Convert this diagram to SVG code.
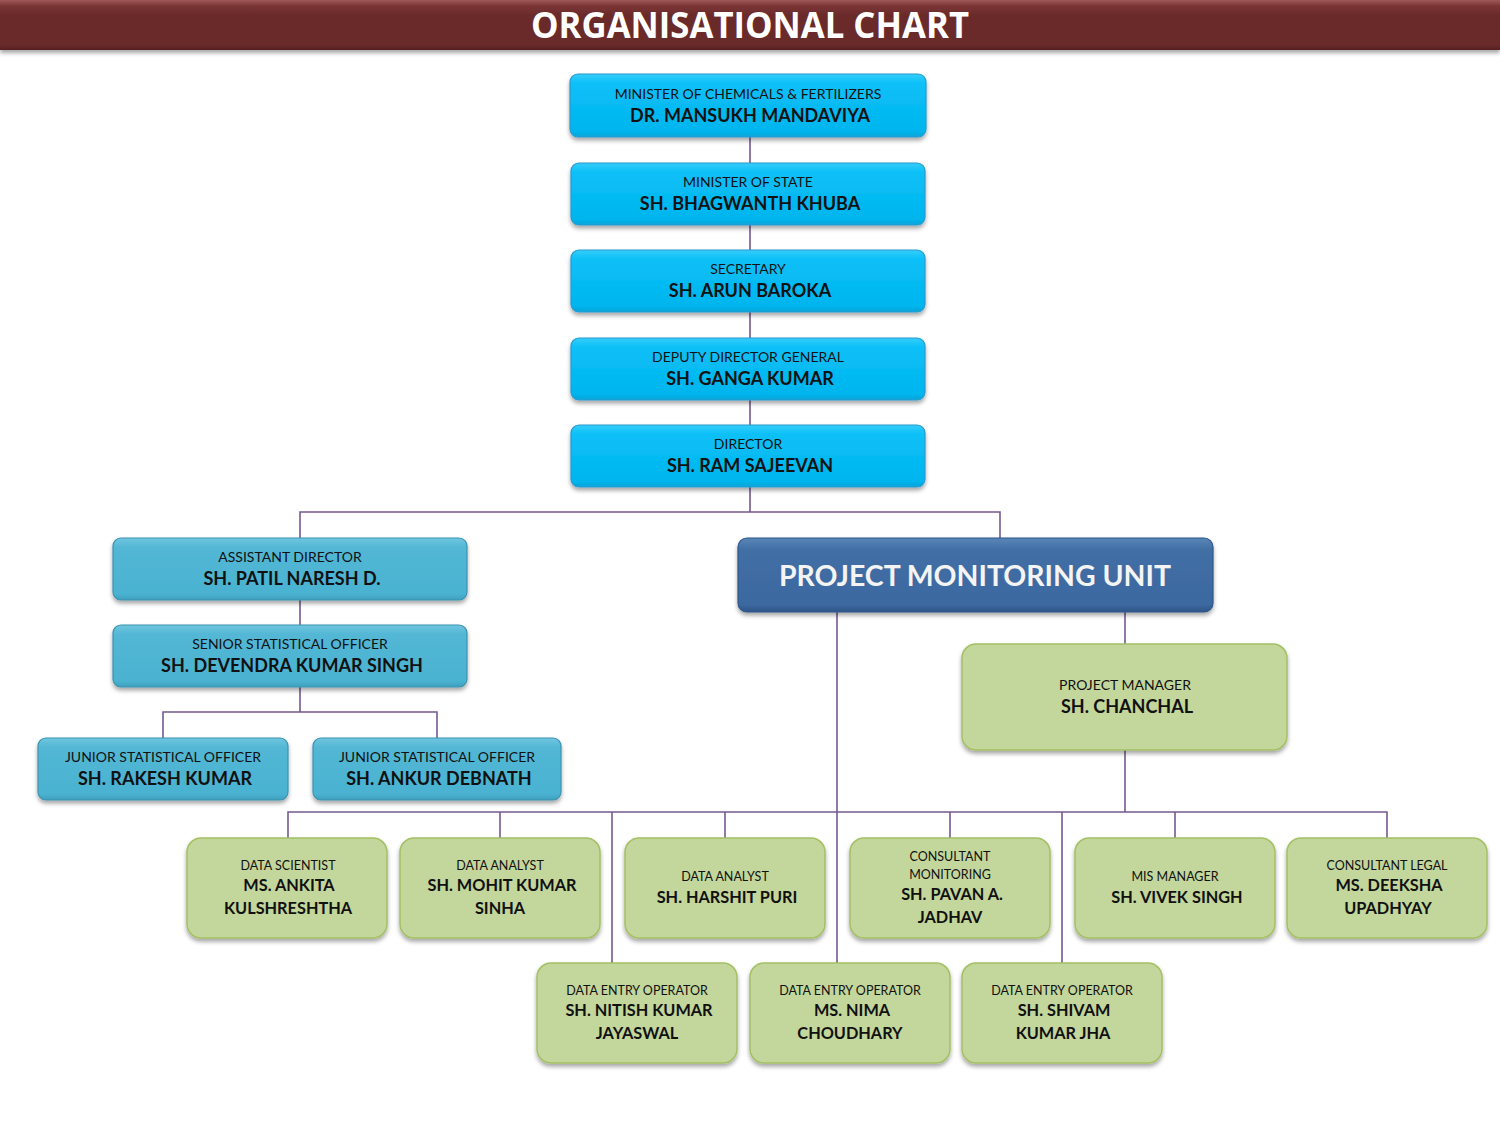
<svg xmlns="http://www.w3.org/2000/svg" width="1500" height="1125" viewBox="0 0 1500 1125">
<style>
  .t{font-family:Lato,"Open Sans","Liberation Sans",sans-serif;text-anchor:middle;fill:#111}
  .ti{font-size:14px}
  .nm{font-size:18px;font-weight:bold}
  .gti{font-size:12.5px}
  .gnm{font-size:16.3px;font-weight:bold}
  .bright{fill:url(#gBright);stroke:#2a9ad0;stroke-width:1.2}
  .mid{fill:url(#gMid);stroke:#3b93b0;stroke-width:1.2}
  .green{fill:#c3d69b;stroke:#a4c064;stroke-width:1.5}
  .conn{stroke:#76598f;stroke-width:1.6;fill:none}
</style>
<defs>
  <filter id="sh" x="-10%" y="-20%" width="120%" height="150%">
    <feDropShadow dx="0" dy="3" stdDeviation="2.2" flood-color="#000" flood-opacity="0.35"/>
  </filter>
  <linearGradient id="gBright" x1="0" y1="0" x2="0" y2="1">
    <stop offset="0" stop-color="#35cdfb"/>
    <stop offset="0.15" stop-color="#0cc0f7"/>
    <stop offset="0.9" stop-color="#00b5ee"/>
    <stop offset="1" stop-color="#0aa5d8"/>
  </linearGradient>
  <linearGradient id="gMid" x1="0" y1="0" x2="0" y2="1">
    <stop offset="0" stop-color="#71c6df"/>
    <stop offset="0.15" stop-color="#52b7d5"/>
    <stop offset="0.9" stop-color="#4bb2d1"/>
    <stop offset="1" stop-color="#3f9fbe"/>
  </linearGradient>
  <linearGradient id="gPmu" x1="0" y1="0" x2="0" y2="1">
    <stop offset="0" stop-color="#5a86b8"/>
    <stop offset="0.15" stop-color="#426fa5"/>
    <stop offset="0.9" stop-color="#3c68a0"/>
    <stop offset="1" stop-color="#2f5687"/>
  </linearGradient>
  <linearGradient id="gHead" x1="0" y1="0" x2="0" y2="1">
    <stop offset="0" stop-color="#a05a5a"/>
    <stop offset="0.12" stop-color="#7a3434"/>
    <stop offset="0.3" stop-color="#6b2b2b"/>
    <stop offset="0.9" stop-color="#692a2a"/>
    <stop offset="1" stop-color="#552020"/>
  </linearGradient>
</defs>
<rect width="1500" height="1125" fill="#fff"/>

<g id="header">
  <rect x="0" y="0" width="1500" height="50" fill="url(#gHead)" filter="url(#sh)"/>
  <text x="750" y="38" font-family="'Open Sans',Lato,'Liberation Sans',sans-serif" font-size="36" font-weight="bold" fill="#fff" text-anchor="middle" textLength="438" lengthAdjust="spacingAndGlyphs">ORGANISATIONAL CHART</text>
</g>

<g id="connectors">
  <path class="conn" d="M750 137V163M750 225V250M750 312V338M750 400V425M750 487V512"/>
  <path class="conn" d="M300 538V512H1000V538"/>
  <path class="conn" d="M300 600V625M300 687V712M163 738V712H437V738"/>
  <path class="conn" d="M837 612V963M1125 612V644M1125 750V812"/>
  <path class="conn" d="M288 838V812H1387V838M500 812V838M725 812V838M950 812V838M1175 812V838"/>
  <path class="conn" d="M612 812V963M1062 812V963"/>
</g>

<g id="minister">
  <rect class="bright" x="570" y="74" width="356" height="63" rx="8" filter="url(#sh)" stroke="#8a78c0"/>
  <text class="t ti" x="748" y="99">MINISTER OF CHEMICALS &amp; FERTILIZERS</text>
  <text class="t nm" x="750" y="122">DR. MANSUKH MANDAVIYA</text>
</g>
<g id="mos">
  <rect class="bright" x="571" y="163" width="354" height="62" rx="8" filter="url(#sh)"/>
  <text class="t ti" x="748" y="187">MINISTER OF STATE</text>
  <text class="t nm" x="750" y="210">SH. BHAGWANTH KHUBA</text>
</g>
<g id="secretary">
  <rect class="bright" x="571" y="250" width="354" height="62" rx="8" filter="url(#sh)"/>
  <text class="t ti" x="748" y="274">SECRETARY</text>
  <text class="t nm" x="750" y="297">SH. ARUN BAROKA</text>
</g>
<g id="ddg">
  <rect class="bright" x="571" y="338" width="354" height="62" rx="8" filter="url(#sh)"/>
  <text class="t ti" x="748" y="362">DEPUTY DIRECTOR GENERAL</text>
  <text class="t nm" x="750" y="385">SH. GANGA KUMAR</text>
</g>
<g id="director">
  <rect class="bright" x="571" y="425" width="354" height="62" rx="8" filter="url(#sh)"/>
  <text class="t ti" x="748" y="449">DIRECTOR</text>
  <text class="t nm" x="750" y="472">SH. RAM SAJEEVAN</text>
</g>

<g id="ad">
  <rect class="mid" x="113" y="538" width="354" height="62" rx="8" filter="url(#sh)"/>
  <text class="t ti" x="290" y="562">ASSISTANT DIRECTOR</text>
  <text class="t nm" x="292" y="585">SH. PATIL NARESH D.</text>
</g>
<g id="sso">
  <rect class="mid" x="113" y="625" width="354" height="62" rx="8" filter="url(#sh)"/>
  <text class="t ti" x="290" y="649">SENIOR STATISTICAL OFFICER</text>
  <text class="t nm" x="292" y="672">SH. DEVENDRA KUMAR SINGH</text>
</g>
<g id="jso1">
  <rect class="mid" x="38" y="738" width="250" height="62" rx="8" filter="url(#sh)"/>
  <text class="t ti" x="163" y="762">JUNIOR STATISTICAL OFFICER</text>
  <text class="t nm" x="165" y="785">SH. RAKESH KUMAR</text>
</g>
<g id="jso2">
  <rect class="mid" x="313" y="738" width="248" height="62" rx="8" filter="url(#sh)"/>
  <text class="t ti" x="437" y="762">JUNIOR STATISTICAL OFFICER</text>
  <text class="t nm" x="439" y="785">SH. ANKUR DEBNATH</text>
</g>

<g id="pmu">
  <rect x="738" y="538" width="475" height="74" rx="9" fill="url(#gPmu)" stroke="#2f5687" stroke-width="1.2" filter="url(#sh)"/>
  <text x="975" y="586" font-family="Lato,'Open Sans','Liberation Sans',sans-serif" font-size="29" font-weight="bold" fill="#f4f4f4" text-anchor="middle" textLength="392" lengthAdjust="spacingAndGlyphs">PROJECT MONITORING UNIT</text>
</g>

<g id="pm">
  <rect class="green" x="962" y="644" width="325" height="106" rx="14" filter="url(#sh)"/>
  <text class="t ti" x="1125" y="690">PROJECT MANAGER</text>
  <text class="t nm" x="1127" y="713">SH. CHANCHAL</text>
</g>

<g id="ds">
  <rect class="green" x="187" y="838" width="200" height="100" rx="14" filter="url(#sh)"/>
  <text class="t gti" x="288" y="870">DATA SCIENTIST</text>
  <text class="t gnm" x="289" y="891">MS. ANKITA</text>
  <text class="t gnm" x="288" y="914">KULSHRESHTHA</text>
</g>
<g id="da1">
  <rect class="green" x="400" y="838" width="200" height="100" rx="14" filter="url(#sh)"/>
  <text class="t gti" x="500" y="870">DATA ANALYST</text>
  <text class="t gnm" x="502" y="891">SH. MOHIT KUMAR</text>
  <text class="t gnm" x="500" y="914">SINHA</text>
</g>
<g id="da2">
  <rect class="green" x="625" y="838" width="200" height="100" rx="14" filter="url(#sh)"/>
  <text class="t gti" x="725" y="881">DATA ANALYST</text>
  <text class="t gnm" x="727" y="903">SH. HARSHIT PURI</text>
</g>
<g id="cm">
  <rect class="green" x="850" y="838" width="200" height="100" rx="14" filter="url(#sh)"/>
  <text class="t gti" x="950" y="861">CONSULTANT</text>
  <text class="t gti" x="950" y="879">MONITORING</text>
  <text class="t gnm" x="952" y="900">SH. PAVAN A.</text>
  <text class="t gnm" x="950" y="923">JADHAV</text>
</g>
<g id="mis">
  <rect class="green" x="1075" y="838" width="200" height="100" rx="14" filter="url(#sh)"/>
  <text class="t gti" x="1175" y="881">MIS MANAGER</text>
  <text class="t gnm" x="1177" y="903">SH. VIVEK SINGH</text>
</g>
<g id="cl">
  <rect class="green" x="1287" y="838" width="200" height="100" rx="14" filter="url(#sh)"/>
  <text class="t gti" x="1387" y="870">CONSULTANT LEGAL</text>
  <text class="t gnm" x="1389" y="891">MS. DEEKSHA</text>
  <text class="t gnm" x="1388" y="914">UPADHYAY</text>
</g>

<g id="deo1">
  <rect class="green" x="537" y="963" width="200" height="100" rx="14" filter="url(#sh)"/>
  <text class="t gti" x="637" y="995">DATA ENTRY OPERATOR</text>
  <text class="t gnm" x="639" y="1016">SH. NITISH KUMAR</text>
  <text class="t gnm" x="637" y="1039">JAYASWAL</text>
</g>
<g id="deo2">
  <rect class="green" x="750" y="963" width="200" height="100" rx="14" filter="url(#sh)"/>
  <text class="t gti" x="850" y="995">DATA ENTRY OPERATOR</text>
  <text class="t gnm" x="852" y="1016">MS. NIMA</text>
  <text class="t gnm" x="850" y="1039">CHOUDHARY</text>
</g>
<g id="deo3">
  <rect class="green" x="962" y="963" width="200" height="100" rx="14" filter="url(#sh)"/>
  <text class="t gti" x="1062" y="995">DATA ENTRY OPERATOR</text>
  <text class="t gnm" x="1064" y="1016">SH. SHIVAM</text>
  <text class="t gnm" x="1063" y="1039">KUMAR JHA</text>
</g>
</svg>
